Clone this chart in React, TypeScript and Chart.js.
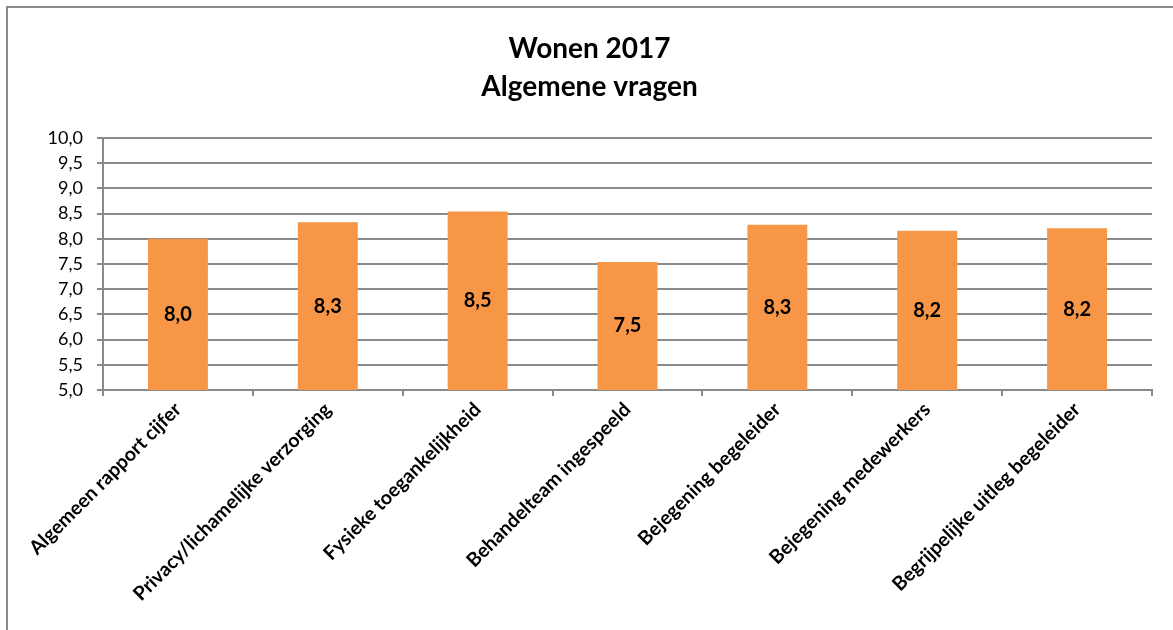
import React, { useEffect, useRef } from "react";
import { Chart, registerables } from "chart.js";

Chart.register(...registerables);

const titleLines = ["Wonen 2017", "Algemene vragen"];
const categories = [
  "Algemeen rapport cijfer",
  "Privacy/lichamelijke verzorging",
  "Fysieke toegankelijkheid",
  "Behandelteam ingespeeld",
  "Bejegening begeleider",
  "Bejegening medewerkers",
  "Begrijpelijke uitleg begeleider",
];
const scores = [8.0, 8.33, 8.54, 7.54, 8.28, 8.16, 8.21];
const yMin = 5;
const yMax = 10;
const yStep = 0.5;

const FONT = "Lato, 'Open Sans', sans-serif";
const fmt = (v: number) => v.toFixed(1).replace(".", ",");

const frameBorder = {
  id: "frameBorder",
  afterDraw(chart: any) {
    const ctx = chart.ctx;
    ctx.save();
    ctx.strokeStyle = "#8a8a8a";
    ctx.lineWidth = 2;
    ctx.strokeRect(7, 7, 1300, 800);
    ctx.restore();
  },
};

const barLabels = {
  id: "barLabels",
  afterDatasetsDraw(chart: any) {
    const ctx = chart.ctx;
    const meta = chart.getDatasetMeta(0);
    const data = chart.data.datasets[0].data as number[];
    const basePx = chart.scales.y.getPixelForValue(yMin);
    ctx.save();
    ctx.font = `bold 20px ${FONT}`;
    ctx.fillStyle = "#000";
    ctx.textAlign = "center";
    ctx.textBaseline = "middle";
    meta.data.forEach((bar: any, i: number) => {
      ctx.fillText(fmt(data[i]), bar.x, (bar.y + basePx) / 2);
    });
    ctx.restore();
  },
};

export default function App() {
  const ref = useRef<HTMLCanvasElement | null>(null);
  useEffect(() => {
    document.body.style.margin = "0";
    const chart = new Chart(ref.current as HTMLCanvasElement, {
      type: "bar",
      data: {
        labels: categories,
        datasets: [
          {
            data: scores,
            backgroundColor: "#F79646",
            barPercentage: 0.4,
            categoryPercentage: 1,
          },
        ],
      },
      options: {
        responsive: false,
        animation: false,
        layout: { padding: { left: 6, right: 0, top: 0, bottom: 0 } },
        plugins: {
          legend: { display: false },
          tooltip: { enabled: false },
          title: {
            display: true,
            text: titleLines,
            color: "#000",
            font: { family: FONT, size: 28, weight: "bold", lineHeight: 1.357 },
            padding: { top: 30, bottom: 32 },
          },
        },
        scales: {
          x: {
            grid: {
              drawOnChartArea: false,
              drawTicks: true,
              tickLength: 6,
              color: "#8a8a8a",
              lineWidth: 2,
            },
            border: { color: "#8a8a8a", width: 2 },
            ticks: {
              minRotation: 45,
              maxRotation: 45,
              autoSkip: false,
              color: "#000",
              padding: 2,
              font: { family: FONT, size: 19.5, weight: "bold" },
            },
            afterFit(scale: any) {
              scale.height = 240;
            },
          },
          y: {
            min: yMin,
            max: yMax,
            ticks: {
              stepSize: yStep,
              color: "#000",
              padding: 14,
              font: { family: FONT, size: 18 },
              callback: (v: any) => fmt(Number(v)),
            },
            grid: {
              color: "#8a8a8a",
              lineWidth: 2,
              tickLength: 6,
            },
            border: { color: "#8a8a8a", width: 2 },
            afterFit(scale: any) {
              scale.width = 97;
            },
          },
          yRight: {
            position: "right",
            min: yMin,
            max: yMax,
            ticks: { display: false },
            grid: { display: false, drawTicks: false },
            border: { display: false },
            afterFit(scale: any) {
              scale.width = 21;
            },
          },
        },
      },
      plugins: [frameBorder, barLabels],
    });
    return () => chart.destroy();
  }, []);
  return (
    <div style={{ width: 1173, height: 630, position: "relative", background: "#fff" }}>
      <canvas ref={ref} width={1173} height={630} />
    </div>
  );
}
